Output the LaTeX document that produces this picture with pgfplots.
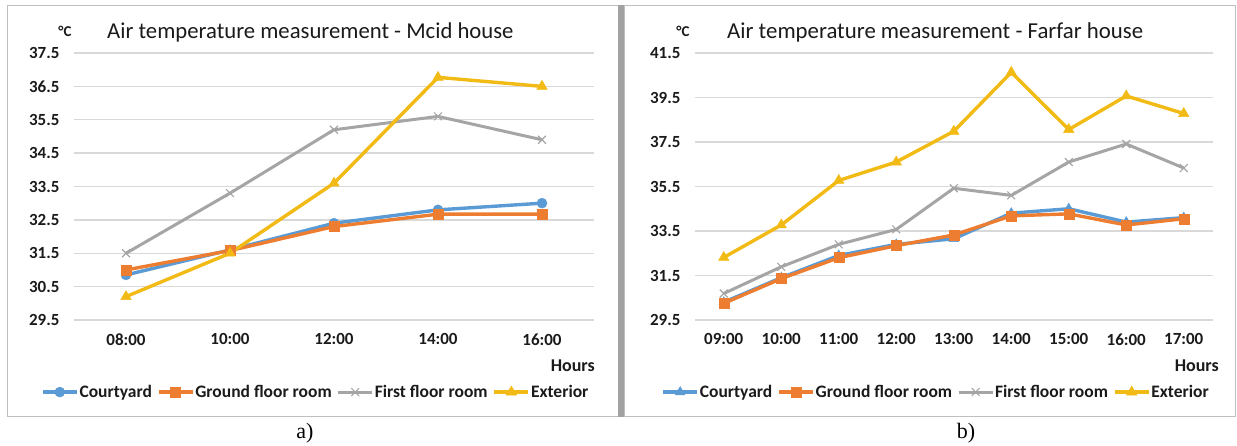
\documentclass[border=0pt]{standalone}
\usepackage{pgfplots}
\pgfplotsset{compat=1.18}
\usepackage{fontspec}
\setmainfont{Carlito}
\newfontfamily\seriffont{Liberation Serif}
\definecolor{cblue}{HTML}{5B9BD5}
\definecolor{corange}{HTML}{ED7D31}
\definecolor{cgray}{HTML}{A5A5A5}
\definecolor{cgold}{HTML}{F2BA14}
\definecolor{ctext}{HTML}{1A1A1A}
\definecolor{cgrid}{HTML}{D9D9D9}
\definecolor{cframe}{HTML}{BFBFBF}
\pgfplotsset{
 panel/.style={
  scale only axis, height=267pt, ymin=29.5,
  axis line style={draw=none}, tick style={draw=none},
  ymajorgrids, grid style={cgrid, line width=1.3pt},
  yticklabel style={/pgf/number format/.cd, fixed, fixed zerofill, precision=1, /tikz/.cd, xshift=-11pt},
  ticklabel style={font=\fontsize{17}{20}\selectfont\bfseries, text=ctext},
  xticklabel style={yshift=-10pt},
  /pgf/number format/assume math mode=true,
  legend columns=4,
  legend style={draw=none, fill=none, font=\fontsize{17.5}{20}\selectfont\bfseries, text=ctext, anchor=center,
    /tikz/every even column/.append style={column sep=4pt}, nodes={inner xsep=1pt}},
  legend image code/.code={\draw[mark repeat=2, mark phase=2] plot coordinates {(0pt,0pt) (17pt,0pt) (34pt,0pt)};},
  every axis plot/.append style={line width=3.4pt},
 },
}
\begin{document}
\begin{tikzpicture}[x=1pt,y=1pt]
\useasboundingbox (0,0) rectangle (1237,446);
\draw[cframe, line width=1pt] (7,29) rectangle (618,440.5);
\draw[cframe, line width=1pt] (624,29) rectangle (1235,440.5);
\fill[cframe!85!black] (618,29) rectangle (624,441);

\begin{axis}[panel, at={(74pt,126pt)}, anchor=south west, width=520pt,
  xmin=-0.5, xmax=4.5, ymax=37.5, ytick={29.5,30.5,31.5,32.5,33.5,34.5,35.5,36.5,37.5},
  xtick={0,1,2,3,4}, xticklabels={08:00,10:00,12:00,14:00,16:00},
  legend style={at={(axis description cs:0.464,-0.27)}}]
\addplot[cblue, mark=*, mark size=5pt, mark options={line width=0.5pt}] coordinates {(0,30.85) (1,31.6) (2,32.4) (3,32.8) (4,33.0)};
\addplot[corange, mark=square*, mark size=5pt, mark options={line width=0.5pt}] coordinates {(0,31.0) (1,31.58) (2,32.3) (3,32.67) (4,32.67)};
\addplot[cgray, line width=3pt, mark=x, mark size=5.5pt, mark options={line width=1.1pt}] coordinates {(0,31.5) (1,33.3) (2,35.2) (3,35.6) (4,34.9)};
\addplot[cgold, mark=triangle*, mark size=6pt, mark options={line width=0.5pt}] coordinates {(0,30.2) (1,31.5) (2,33.6) (3,36.77) (4,36.5)};
\legend{Courtyard,Ground floor room,First floor room,Exterior}
\end{axis}

\begin{axis}[panel, at={(695pt,126pt)}, anchor=south west, width=517.5pt,
  xmin=-0.5, xmax=8.5, ymax=41.5, ytick={29.5,31.5,33.5,35.5,37.5,39.5,41.5},
  xtick={0,1,2,3,4,5,6,7,8}, xticklabels={09:00,10:00,11:00,12:00,13:00,14:00,15:00,16:00,17:00},
  legend style={at={(axis description cs:0.465,-0.27)}}]
\addplot[cblue, mark=triangle*, mark size=5.5pt, mark options={line width=0.5pt}] coordinates {(0,30.3) (1,31.4) (2,32.4) (3,32.9) (4,33.15) (5,34.3) (6,34.5) (7,33.9) (8,34.1)};
\addplot[corange, mark=square*, mark size=5pt, mark options={line width=0.5pt}] coordinates {(0,30.25) (1,31.36) (2,32.3) (3,32.84) (4,33.32) (5,34.18) (6,34.27) (7,33.77) (8,34.05)};
\addplot[cgray, line width=3pt, mark=x, mark size=5.5pt, mark options={line width=1.1pt}] coordinates {(0,30.69) (1,31.89) (2,32.9) (3,33.57) (4,35.42) (5,35.1) (6,36.6) (7,37.41) (8,36.33)};
\addplot[cgold, mark=triangle*, mark size=6pt, mark options={line width=0.5pt}] coordinates {(0,32.31) (1,33.77) (2,35.77) (3,36.6) (4,37.98) (5,40.63) (6,38.06) (7,39.57) (8,38.78)};
\legend{Courtyard,Ground floor room,First floor room,Exterior}
\end{axis}

\node[anchor=west, font=\fontsize{22.7}{26}\selectfont, text=ctext, inner sep=0pt] at (107,414) {Air temperature measurement - Mcid house};
\node[font=\fontsize{15}{17}\selectfont\bfseries, text=ctext] at (65,415) {°C};
\node[anchor=east, font=\fontsize{18}{20}\selectfont\bfseries, text=ctext, inner sep=0pt] at (595,80) {Hours};
\node[anchor=west, font=\fontsize{22.8}{26}\selectfont, text=ctext, inner sep=0pt] at (727,414) {Air temperature measurement - Farfar house};
\node[font=\fontsize{15}{17}\selectfont\bfseries, text=ctext] at (683,415) {°C};
\node[anchor=east, font=\fontsize{18}{20}\selectfont\bfseries, text=ctext, inner sep=0pt] at (1219,80) {Hours};
\node[font=\seriffont\fontsize{22}{24}\selectfont] at (305,13) {a)};
\node[font=\seriffont\fontsize{22}{24}\selectfont] at (966,13) {b)};
\end{tikzpicture}
\end{document}
